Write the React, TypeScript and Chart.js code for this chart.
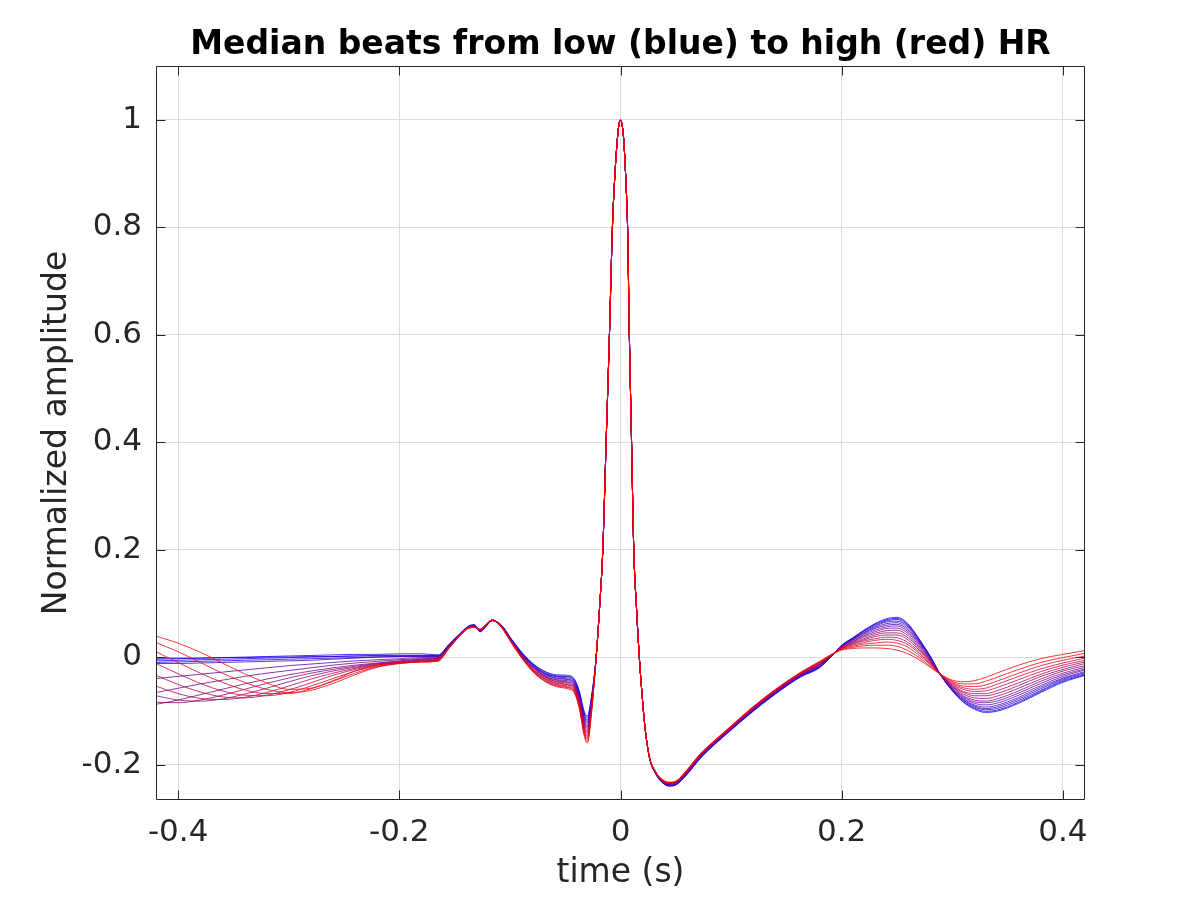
import React, { useEffect, useRef } from "react";
import { Chart, registerables } from "chart.js";

Chart.register(...registerables);

const TITLE = "Median beats from low (blue) to high (red) HR";
const X_LABEL = "time (s)";
const Y_LABEL = "Normalized amplitude";
const X_TICKS = [-0.4, -0.2, 0, 0.2, 0.4];
const Y_TICKS = [-0.2, 0, 0.2, 0.4, 0.6, 0.8, 1];
const X_MIN = -0.42;
const X_MAX = 0.42;
const Y_MIN = -0.266;
const Y_MAX = 1.1;

// Beats ordered from low HR (blue, row 0) to high HR (red, row 15)

// Baseline before the P wave (tail of the previous beat)
const LEFT_T = [-0.42, -0.4, -0.38, -0.36, -0.34, -0.32, -0.3, -0.28, -0.26, -0.24, -0.22, -0.2, -0.18];
const LEFT_ROWS = [
  [-0.004, -0.003, -0.002, -0.001, 0.0, 0.001, 0.002, 0.003, 0.004, 0.005, 0.005, 0.006, 0.006],
  [-0.007, -0.006, -0.005, -0.004, -0.003, -0.002, -0.001, 0.0, 0.001, 0.002, 0.003, 0.003, 0.003],
  [-0.01, -0.009, -0.008, -0.007, -0.006, -0.005, -0.004, -0.003, -0.002, -0.001, 0.0, 0.001, 0.002],
  [-0.002, -0.002, -0.002, -0.001, -0.001, 0.0, 0.0, 0.001, 0.001, 0.002, 0.002, 0.002, 0.002],
  [-0.012, -0.012, -0.011, -0.01, -0.009, -0.008, -0.007, -0.006, -0.004, -0.002, 0.0, 0.001, 0.001],
  [-0.04, -0.036, -0.032, -0.028, -0.024, -0.02, -0.016, -0.013, -0.01, -0.007, -0.005, -0.003, -0.001],
  [-0.066, -0.058, -0.05, -0.043, -0.036, -0.03, -0.025, -0.02, -0.015, -0.011, -0.008, -0.005, -0.003],
  [-0.088, -0.08, -0.07, -0.06, -0.05, -0.041, -0.033, -0.026, -0.02, -0.015, -0.011, -0.007, -0.004],
  [-0.084, -0.085, -0.08, -0.071, -0.06, -0.049, -0.039, -0.03, -0.023, -0.017, -0.012, -0.008, -0.005],
  [-0.072, -0.08, -0.082, -0.078, -0.069, -0.058, -0.046, -0.035, -0.026, -0.019, -0.013, -0.009, -0.006],
  [-0.054, -0.068, -0.077, -0.079, -0.075, -0.066, -0.054, -0.041, -0.03, -0.021, -0.014, -0.01, -0.007],
  [-0.034, -0.051, -0.065, -0.074, -0.076, -0.071, -0.061, -0.048, -0.034, -0.023, -0.015, -0.01, -0.008],
  [-0.012, -0.031, -0.049, -0.063, -0.071, -0.072, -0.066, -0.054, -0.04, -0.026, -0.017, -0.011, -0.008],
  [0.01, -0.01, -0.03, -0.047, -0.061, -0.068, -0.068, -0.059, -0.045, -0.03, -0.018, -0.012, -0.009],
  [0.027, 0.01, -0.01, -0.03, -0.047, -0.06, -0.066, -0.062, -0.049, -0.033, -0.019, -0.012, -0.009],
  [0.039, 0.026, 0.009, -0.011, -0.031, -0.048, -0.06, -0.058, -0.044, -0.026, -0.015, -0.011, -0.009],
];

// P wave, PR segment and Q dip
const PQ_T = [-0.165, -0.155, -0.145, -0.137, -0.132, -0.127, -0.122, -0.116, -0.108, -0.098, -0.088, -0.078, -0.068, -0.058, -0.048, -0.042, -0.037, -0.033, -0.03, -0.026];
const PQ_ROWS = [
  [0.004, 0.024, 0.044, 0.058, 0.06, 0.047, 0.056, 0.068, 0.06, 0.032, 0.006, -0.014, -0.027, -0.033, -0.034, -0.04, -0.065, -0.1, -0.11, -0.07],
  [0.003, 0.023, 0.044, 0.058, 0.06, 0.047, 0.056, 0.068, 0.06, 0.031, 0.005, -0.015, -0.028, -0.035, -0.036, -0.042, -0.067, -0.103, -0.113, -0.072],
  [0.002, 0.023, 0.043, 0.057, 0.059, 0.048, 0.057, 0.068, 0.06, 0.031, 0.004, -0.016, -0.03, -0.036, -0.037, -0.043, -0.069, -0.106, -0.117, -0.074],
  [0.002, 0.022, 0.043, 0.057, 0.059, 0.048, 0.057, 0.068, 0.059, 0.03, 0.004, -0.017, -0.031, -0.037, -0.039, -0.045, -0.072, -0.109, -0.12, -0.076],
  [0.001, 0.022, 0.043, 0.057, 0.059, 0.048, 0.057, 0.068, 0.059, 0.03, 0.003, -0.018, -0.032, -0.039, -0.041, -0.047, -0.074, -0.112, -0.123, -0.078],
  [0.0, 0.021, 0.043, 0.057, 0.058, 0.049, 0.057, 0.068, 0.059, 0.029, 0.002, -0.019, -0.033, -0.04, -0.042, -0.049, -0.076, -0.115, -0.127, -0.08],
  [-0.001, 0.021, 0.042, 0.056, 0.058, 0.049, 0.058, 0.068, 0.058, 0.029, 0.001, -0.02, -0.035, -0.042, -0.044, -0.05, -0.078, -0.118, -0.13, -0.082],
  [-0.002, 0.02, 0.042, 0.056, 0.058, 0.049, 0.058, 0.069, 0.058, 0.028, 0.0, -0.021, -0.036, -0.043, -0.046, -0.052, -0.08, -0.121, -0.133, -0.084],
  [-0.002, 0.02, 0.042, 0.056, 0.057, 0.05, 0.058, 0.069, 0.058, 0.028, 0.0, -0.022, -0.037, -0.045, -0.047, -0.054, -0.083, -0.124, -0.137, -0.086],
  [-0.003, 0.019, 0.042, 0.056, 0.057, 0.05, 0.058, 0.069, 0.058, 0.027, -0.001, -0.024, -0.038, -0.046, -0.049, -0.056, -0.085, -0.127, -0.14, -0.088],
  [-0.004, 0.019, 0.041, 0.055, 0.057, 0.05, 0.059, 0.069, 0.057, 0.027, -0.002, -0.025, -0.04, -0.048, -0.051, -0.057, -0.087, -0.13, -0.143, -0.09],
  [-0.005, 0.018, 0.041, 0.055, 0.056, 0.051, 0.059, 0.069, 0.057, 0.026, -0.003, -0.026, -0.041, -0.049, -0.052, -0.059, -0.089, -0.133, -0.147, -0.092],
  [-0.006, 0.018, 0.041, 0.055, 0.056, 0.051, 0.059, 0.069, 0.057, 0.026, -0.004, -0.027, -0.042, -0.051, -0.054, -0.061, -0.091, -0.136, -0.15, -0.094],
  [-0.006, 0.017, 0.041, 0.055, 0.056, 0.051, 0.06, 0.069, 0.057, 0.025, -0.004, -0.028, -0.044, -0.052, -0.056, -0.063, -0.094, -0.139, -0.153, -0.096],
  [-0.007, 0.017, 0.04, 0.054, 0.055, 0.052, 0.06, 0.069, 0.056, 0.025, -0.005, -0.029, -0.045, -0.054, -0.057, -0.064, -0.096, -0.142, -0.157, -0.098],
  [-0.008, 0.016, 0.04, 0.054, 0.055, 0.052, 0.06, 0.069, 0.056, 0.024, -0.006, -0.03, -0.046, -0.055, -0.059, -0.066, -0.098, -0.145, -0.16, -0.1],
];

// R peak (common to all beats)
const QRS_T = [-0.022, -0.019, -0.016, -0.013, -0.01, -0.0073, -0.005, -0.003, -0.0015, 0, 0.0015, 0.003, 0.005, 0.0064, 0.008, 0.01, 0.012, 0.0145, 0.017, 0.0195, 0.022];
const QRS_VALUES = [0.0, 0.09, 0.2, 0.4, 0.6, 0.8, 0.9, 0.96, 0.99, 1.0, 0.99, 0.96, 0.88, 0.8, 0.6, 0.4, 0.2, 0.09, 0.0, -0.07, -0.128];

// S wave and ST segment
const ST_T = [0.026, 0.032, 0.038, 0.044, 0.05, 0.06, 0.072, 0.085, 0.1, 0.117, 0.14, 0.163, 0.18];
const ST_ROWS = [
  [-0.186, -0.218, -0.234, -0.24, -0.238, -0.219, -0.189, -0.163, -0.136, -0.106, -0.069, -0.037, -0.02],
  [-0.186, -0.218, -0.234, -0.24, -0.238, -0.218, -0.188, -0.162, -0.135, -0.105, -0.068, -0.036, -0.019],
  [-0.186, -0.217, -0.233, -0.239, -0.237, -0.218, -0.188, -0.162, -0.135, -0.105, -0.068, -0.036, -0.018],
  [-0.186, -0.217, -0.233, -0.239, -0.237, -0.217, -0.187, -0.161, -0.134, -0.104, -0.067, -0.035, -0.018],
  [-0.185, -0.217, -0.232, -0.238, -0.236, -0.217, -0.187, -0.161, -0.134, -0.104, -0.067, -0.035, -0.017],
  [-0.185, -0.217, -0.232, -0.238, -0.236, -0.216, -0.186, -0.16, -0.133, -0.103, -0.066, -0.034, -0.016],
  [-0.185, -0.216, -0.232, -0.237, -0.235, -0.215, -0.185, -0.16, -0.133, -0.102, -0.065, -0.033, -0.015],
  [-0.185, -0.216, -0.231, -0.237, -0.235, -0.215, -0.185, -0.159, -0.132, -0.102, -0.065, -0.033, -0.014],
  [-0.185, -0.216, -0.231, -0.236, -0.234, -0.214, -0.184, -0.159, -0.132, -0.101, -0.064, -0.032, -0.014],
  [-0.185, -0.216, -0.23, -0.236, -0.234, -0.214, -0.184, -0.158, -0.131, -0.101, -0.064, -0.032, -0.013],
  [-0.185, -0.215, -0.23, -0.235, -0.233, -0.213, -0.183, -0.158, -0.131, -0.1, -0.063, -0.031, -0.012],
  [-0.185, -0.215, -0.23, -0.235, -0.233, -0.212, -0.182, -0.157, -0.13, -0.099, -0.062, -0.03, -0.011],
  [-0.184, -0.215, -0.229, -0.234, -0.232, -0.212, -0.182, -0.157, -0.13, -0.099, -0.062, -0.03, -0.01],
  [-0.184, -0.215, -0.229, -0.234, -0.232, -0.211, -0.181, -0.156, -0.129, -0.098, -0.061, -0.029, -0.01],
  [-0.184, -0.214, -0.228, -0.233, -0.231, -0.211, -0.181, -0.156, -0.129, -0.098, -0.061, -0.029, -0.009],
  [-0.184, -0.214, -0.228, -0.233, -0.231, -0.21, -0.18, -0.155, -0.128, -0.097, -0.06, -0.028, -0.008],
];

// T wave and after
const T_T = [0.19, 0.2, 0.21, 0.22, 0.23, 0.24, 0.25, 0.26, 0.27, 0.28, 0.29, 0.3, 0.31, 0.32, 0.33, 0.34, 0.36, 0.38, 0.4, 0.42];
const T_ROWS = [
  [0.0, 0.022, 0.036, 0.05, 0.062, 0.071, 0.074, 0.062, 0.034, 0.002, -0.035, -0.063, -0.084, -0.097, -0.103, -0.101, -0.086, -0.066, -0.047, -0.034],
  [0.0, 0.022, 0.035, 0.049, 0.061, 0.069, 0.072, 0.06, 0.033, 0.001, -0.035, -0.062, -0.083, -0.095, -0.101, -0.099, -0.084, -0.064, -0.045, -0.033],
  [0.0, 0.021, 0.035, 0.048, 0.059, 0.067, 0.07, 0.058, 0.031, 0.001, -0.035, -0.062, -0.081, -0.093, -0.098, -0.096, -0.081, -0.062, -0.043, -0.031],
  [0.0, 0.021, 0.034, 0.046, 0.057, 0.065, 0.067, 0.056, 0.03, 0.0, -0.035, -0.061, -0.08, -0.091, -0.096, -0.093, -0.078, -0.059, -0.041, -0.029],
  [0.001, 0.021, 0.033, 0.045, 0.055, 0.062, 0.064, 0.053, 0.028, -0.001, -0.035, -0.06, -0.078, -0.089, -0.093, -0.09, -0.075, -0.056, -0.039, -0.027],
  [0.001, 0.02, 0.032, 0.043, 0.053, 0.059, 0.061, 0.05, 0.026, -0.002, -0.035, -0.059, -0.076, -0.086, -0.089, -0.086, -0.071, -0.053, -0.036, -0.024],
  [0.001, 0.02, 0.031, 0.041, 0.05, 0.056, 0.058, 0.047, 0.024, -0.004, -0.035, -0.058, -0.074, -0.083, -0.085, -0.082, -0.067, -0.049, -0.033, -0.022],
  [0.001, 0.019, 0.029, 0.039, 0.047, 0.053, 0.054, 0.044, 0.021, -0.005, -0.034, -0.056, -0.072, -0.08, -0.082, -0.078, -0.063, -0.045, -0.03, -0.019],
  [0.002, 0.018, 0.028, 0.037, 0.044, 0.049, 0.05, 0.04, 0.018, -0.006, -0.034, -0.055, -0.069, -0.076, -0.077, -0.073, -0.058, -0.041, -0.026, -0.016],
  [0.002, 0.018, 0.027, 0.034, 0.041, 0.045, 0.045, 0.036, 0.016, -0.008, -0.034, -0.054, -0.066, -0.072, -0.072, -0.068, -0.053, -0.036, -0.023, -0.012],
  [0.002, 0.017, 0.025, 0.032, 0.038, 0.041, 0.041, 0.032, 0.013, -0.009, -0.034, -0.052, -0.064, -0.068, -0.068, -0.063, -0.048, -0.032, -0.019, -0.009],
  [0.002, 0.016, 0.024, 0.03, 0.034, 0.037, 0.036, 0.027, 0.01, -0.011, -0.034, -0.051, -0.06, -0.064, -0.063, -0.057, -0.042, -0.027, -0.015, -0.006],
  [0.003, 0.016, 0.022, 0.027, 0.031, 0.033, 0.031, 0.023, 0.007, -0.013, -0.034, -0.049, -0.057, -0.06, -0.058, -0.051, -0.036, -0.022, -0.011, -0.002],
  [0.003, 0.015, 0.02, 0.024, 0.026, 0.028, 0.026, 0.018, 0.003, -0.014, -0.033, -0.047, -0.054, -0.055, -0.052, -0.045, -0.03, -0.016, -0.006, 0.002],
  [0.004, 0.014, 0.018, 0.021, 0.022, 0.022, 0.02, 0.012, -0.001, -0.017, -0.033, -0.045, -0.05, -0.05, -0.045, -0.038, -0.023, -0.01, -0.001, 0.007],
  [0.004, 0.013, 0.016, 0.017, 0.017, 0.016, 0.013, 0.006, -0.005, -0.019, -0.033, -0.043, -0.046, -0.044, -0.038, -0.03, -0.015, -0.003, 0.005, 0.012],
];

const BEAT_COUNT = LEFT_ROWS.length;
const FONT = "'DejaVu Sans', 'Noto Sans', sans-serif";
const INK = "#262626";

function beatColor(i: number): string {
  const f = BEAT_COUNT > 1 ? i / (BEAT_COUNT - 1) : 0;
  const r = Math.round(255 * f);
  const b = Math.round(255 * (1 - f));
  return `rgba(${r},0,${b},0.78)`;
}

function fmtTick(v: number): string {
  const r = Math.round(v * 10) / 10;
  return r === 0 ? "0" : String(r);
}

const framePlugin = {
  id: "matlabFrame",
  afterDatasetsDraw(chart: any) {
    const { ctx, chartArea: a, scales } = chart;
    const L = Math.round(a.left) + 0.5;
    const R = Math.round(a.right) - 0.5;
    const T = Math.round(a.top) + 0.5;
    const B = Math.round(a.bottom) - 0.5;
    const tl = 9;
    ctx.save();
    ctx.strokeStyle = INK;
    ctx.lineWidth = 1;
    ctx.beginPath();
    ctx.moveTo(L, T);
    ctx.lineTo(R, T);
    ctx.lineTo(R, B);
    ctx.lineTo(L, B);
    ctx.closePath();
    for (const v of X_TICKS) {
      const px = Math.round(scales.x.getPixelForValue(v)) + 0.5;
      ctx.moveTo(px, B);
      ctx.lineTo(px, B - tl);
      ctx.moveTo(px, T);
      ctx.lineTo(px, T + tl);
    }
    for (const v of Y_TICKS) {
      const py = Math.round(scales.y.getPixelForValue(v)) + 0.5;
      ctx.moveTo(L, py);
      ctx.lineTo(L + tl, py);
      ctx.moveTo(R, py);
      ctx.lineTo(R - tl, py);
    }
    ctx.stroke();
    ctx.restore();
  },
  afterDraw(chart: any) {
    const { ctx, chartArea: a } = chart;
    const cx = (a.left + a.right) / 2;
    const cy = (a.top + a.bottom) / 2;
    ctx.save();
    ctx.fillStyle = "#000";
    ctx.textAlign = "center";
    ctx.textBaseline = "alphabetic";
    ctx.font = `bold 33px ${FONT}`;
    ctx.fillText(TITLE, cx, 54);
    ctx.fillStyle = INK;
    ctx.font = `33px ${FONT}`;
    ctx.fillText(X_LABEL, cx, 882);
    ctx.translate(66, cy);
    ctx.rotate(-Math.PI / 2);
    ctx.fillText(Y_LABEL, 0, 0);
    ctx.restore();
  },
};

export default function App() {
  const canvasRef = useRef<HTMLCanvasElement | null>(null);

  useEffect(() => {
    const canvas = canvasRef.current;
    if (!canvas) return;
    const time = [...LEFT_T, ...PQ_T, ...QRS_T, ...ST_T, ...T_T];
    const datasets = LEFT_ROWS.map((_, i) => {
      const values = [...LEFT_ROWS[i], ...PQ_ROWS[i], ...QRS_VALUES, ...ST_ROWS[i], ...T_ROWS[i]];
      return {
        label: `beat ${i + 1}`,
        data: time.map((t, k) => ({ x: t, y: values[k] })),
        borderColor: beatColor(i),
        backgroundColor: beatColor(i),
        borderWidth: 1,
        pointRadius: 0,
        fill: false,
        cubicInterpolationMode: "monotone" as const,
        order: BEAT_COUNT - 1 - i,
      };
    });

    const chart = new Chart(canvas, {
      type: "line",
      data: { datasets },
      options: {
        animation: false,
        responsive: true,
        maintainAspectRatio: false,
        devicePixelRatio: 1,
        parsing: false,
        layout: { padding: { left: 0, top: 66, right: 115, bottom: 0 } },
        plugins: {
          legend: { display: false },
          title: { display: false },
          tooltip: { enabled: false },
        },
        scales: {
          x: {
            type: "linear",
            min: X_MIN,
            max: X_MAX,
            afterBuildTicks: (s: any) => {
              s.ticks = X_TICKS.map((v) => ({ value: v }));
            },
            afterFit: (s: any) => {
              s.height = 100;
            },
            ticks: {
              callback: (v: any) => fmtTick(Number(v)),
              font: { family: FONT, size: 31 },
              color: INK,
              padding: 14,
              maxRotation: 0,
              autoSkip: false,
            },
            grid: { color: "#dcdcdc", lineWidth: 1, drawTicks: false },
            border: { display: false },
          },
          y: {
            type: "linear",
            min: Y_MIN,
            max: Y_MAX,
            afterBuildTicks: (s: any) => {
              s.ticks = Y_TICKS.map((v) => ({ value: v }));
            },
            afterFit: (s: any) => {
              s.width = 156;
            },
            ticks: {
              callback: (v: any) => fmtTick(Number(v)),
              font: { family: FONT, size: 31 },
              color: INK,
              padding: 14,
              autoSkip: false,
            },
            grid: { color: "#dcdcdc", lineWidth: 1, drawTicks: false },
            border: { display: false },
          },
        },
      },
      plugins: [framePlugin],
    });
    return () => chart.destroy();
  }, []);

  return (
    <div style={{ position: "absolute", left: 0, top: 0, width: 1200, height: 900, background: "#fff" }}>
      <canvas ref={canvasRef} />
    </div>
  );
}
